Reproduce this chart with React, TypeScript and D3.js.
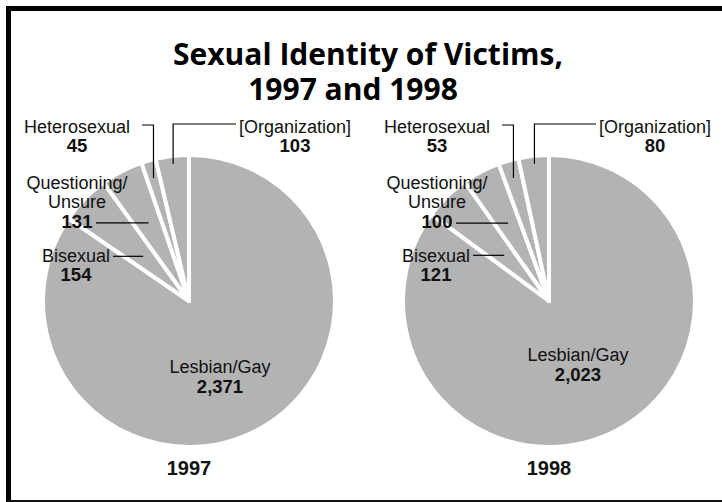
import * as d3 from "d3";

// categories in clockwise order from 12 o'clock
const categories = ["Lesbian/Gay", "Bisexual", "Questioning/Unsure", "Heterosexual", "[Organization]"];
const values1997 = [2371, 154, 131, 45, 103];
const values1998 = [2023, 121, 100, 53, 80];
const years = ["1997", "1998"];
const titleLines = ["Sexual Identity of Victims,", "1997 and 1998"];

const width = 722;
const height = 502;
const radius = 144;
const cy = 301;
const centers = [189, 549];
// where the big slice label sits, relative to each pie centre
const bigLabelOffsets = [
    { dx: 31, dy: 72 },
    { dx: 29, dy: 60 },
];

const labelFont = "'Liberation Sans', Arial, sans-serif";
const gray = "#b3b3b3";

const fmt = d3.format(",");

interface Slice {
    name: string;
    value: number;
}

const Pie = ({ values, cx, year, bigOffset }: { values: number[]; cx: number; year: string; bigOffset: { dx: number; dy: number } }) => {
    const data: Slice[] = categories.map((c, i) => ({ name: c, value: values[i] }));
    const arcs = d3.pie<Slice>().sort(null).value(d => d.value)(data);
    const arc = d3.arc<d3.PieArcDatum<Slice>>().innerRadius(0).outerRadius(radius + 2);

    // point on a slice along its middle angle
    const pointAt = (i: number, r: number): [number, number] => {
        const a = (arcs[i].startAngle + arcs[i].endAngle) / 2;
        return [cx + Math.sin(a) * r, cy - Math.cos(a) * r];
    };

    const [bx, by] = pointAt(1, 64);
    const [qx, qy] = pointAt(2, 88);
    const [hx, hy] = pointAt(3, 128);
    const [ox, oy] = pointAt(4, 138);

    const line = { stroke: "#000", strokeWidth: 1.2, fill: "none" };
    const txt = { fontFamily: labelFont, fontSize: 18, fill: "#111" };
    const num = { ...txt, fontSize: 18.5, fontWeight: 700 as const };

    return (
        <g>
            <g transform={`translate(${cx},${cy})`}>
                {arcs.map((a, i) => (
                    <path key={i} d={arc(a) ?? ""} fill={gray} stroke="#fff" strokeWidth={4} strokeLinejoin="round" />
                ))}
            </g>

            {/* leader lines */}
            <path d={`M${cx - 47},125H${hx}V${hy}`} {...line} />
            <path d={`M${cx + 47},124H${ox}V${oy}`} {...line} />
            <path d={`M${cx - 93},${qy}H${qx}`} {...line} />
            <path d={`M${cx - 76},${by}H${bx}`} {...line} />

            <g textAnchor="middle">
                <text x={cx - 112} y={133} {...txt}>{categories[3]}</text>
                <text x={cx - 112} y={152} {...num}>{fmt(values[3])}</text>

                <text x={cx + 106} y={133} {...txt}>{categories[4]}</text>
                <text x={cx + 106} y={152} {...num}>{fmt(values[4])}</text>

                <text x={cx - 112} y={189} {...txt}>Questioning/</text>
                <text x={cx - 112} y={208} {...txt}>Unsure</text>
                <text x={cx - 112} y={228} {...num}>{fmt(values[2])}</text>

                <text x={cx - 113} y={262} {...txt}>{categories[1]}</text>
                <text x={cx - 113} y={281} {...num}>{fmt(values[1])}</text>

                <text x={cx + bigOffset.dx} y={cy + bigOffset.dy} {...txt}>{categories[0]}</text>
                <text x={cx + bigOffset.dx} y={cy + bigOffset.dy + 20} {...num}>{fmt(values[0])}</text>

                <text x={cx} y={475} fontFamily={labelFont} fontSize={20} fontWeight={700} fill="#111">{year}</text>
            </g>
        </g>
    );
};

export default function App() {
    const series = [values1997, values1998];
    return (
        <>
            <style>{`html,body{margin:0;overflow:hidden;background:#fff}`}</style>
            <svg width={width} height={height} style={{ position: "absolute", left: 0, top: 0, display: "block" }}>
                <rect x={0} y={0} width={width} height={height} fill="#fff" />
                {/* frame: heavy top/left, thin bottom */}
                <rect x={6} y={6} width={width - 6} height={5} fill="#000" />
                <rect x={6} y={6} width={5} height={height - 6} fill="#000" />
                <rect x={6} y={500} width={width - 6} height={2} fill="#111" />

                <text textAnchor="middle" fontFamily="'Open Sans', sans-serif" fontWeight={700} fontSize={30} fill="#000">
                    <tspan x={368} y={65}>{titleLines[0]}</tspan>
                    <tspan x={353} y={100}>{titleLines[1]}</tspan>
                </text>

                {series.map((v, i) => (
                    <Pie key={years[i]} values={v} cx={centers[i]} year={years[i]} bigOffset={bigLabelOffsets[i]} />
                ))}
            </svg>
        </>
    );
}
